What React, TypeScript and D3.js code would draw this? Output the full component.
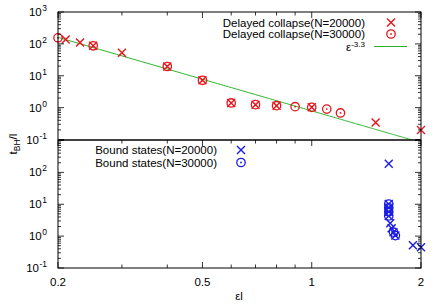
import React from 'react';
import * as d3 from 'd3';

// delayed collapse, N=20000 (crosses)
const collapse20x = [0.21, 0.23, 0.25, 0.3, 0.4, 0.5, 0.6, 0.7, 0.8, 1.0, 1.5, 2.0];
const collapse20y = [138, 111, 87, 53, 19.5, 7.2, 1.4, 1.24, 1.15, 1.02, 0.34, 0.2];
// delayed collapse, N=30000 (circles)
const collapse30x = [0.2, 0.25, 0.4, 0.5, 0.6, 0.7, 0.8, 0.9, 1.0, 1.1, 1.2];
const collapse30y = [155, 87, 19.5, 7.2, 1.4, 1.24, 1.15, 1.07, 1.02, 0.9, 0.68];
// bound states
const bound20x = [1.63, 1.63, 1.63, 1.63, 1.63, 1.645, 1.66, 1.68, 1.7, 1.9, 2.0];
const bound20y = [186, 10.2, 7.7, 5.8, 4.3, 2.55, 1.77, 1.33, 1.04, 0.52, 0.45];
const bound30x = [1.63, 1.63, 1.63, 1.63, 1.68, 1.7];
const bound30y = [10.2, 7.7, 5.8, 4.3, 1.33, 1.04];

const fitCoef = 0.79;
const fitExp = -3.3;

const xTickVals = [0.2, 0.5, 1, 2];
const xTickLabels = ['0.2', '0.5', '1', '2'];
const xMinor = [0.3, 0.4, 0.6, 0.7, 0.8, 0.9];
const yDecades = [-1, 0, 1, 2, 3];
const yLabelsTop = [-1, 0, 1, 2, 3];
const yLabelsBot = [-1, 0, 1, 2];

const RED = '#e8141c';
const BLUE = '#1a1ae6';
const GREEN = '#2ab32a';
const FONT = 'Liberation Sans, Arial, sans-serif';

const left = 58, right = 421;
const topY0 = 12, topY1 = 139.5;
const botY0 = 140.5, botY1 = 268;

const x = d3.scaleLog().domain([0.2, 2]).range([left, right]);
const yTop = d3.scaleLog().domain([0.1, 1000]).range([topY1, topY0]);
const yBot = d3.scaleLog().domain([0.1, 1000]).range([botY1, botY0]);

const Cross = ({ cx, cy, color }: any) => (
  <path d={`M${cx - 4},${cy - 4}L${cx + 4},${cy + 4}M${cx - 4},${cy + 4}L${cx + 4},${cy - 4}`}
    stroke={color} strokeWidth={1.4} fill="none" />
);
const Circ = ({ cx, cy, color }: any) => (
  <g>
    <circle cx={cx} cy={cy} r={4.2} stroke={color} strokeWidth={1.3} fill="none" />
    <circle cx={cx} cy={cy} r={0.9} fill={color} />
  </g>
);

const YAxis = ({ y, labels }: any) => {
  const ticks: any[] = [];
  yDecades.forEach((d) => {
    const v = Math.pow(10, d);
    ticks.push({ v, len: 6 });
    if (d < 3) for (let m = 2; m < 10; m++) ticks.push({ v: v * m, len: 3 });
  });
  return (
    <g>
      {ticks.map((t, i) => (
        <g key={i}>
          <line x1={left} x2={left + t.len} y1={y(t.v)} y2={y(t.v)} stroke="#000" strokeWidth={0.8} />
          <line x1={right} x2={right - t.len} y1={y(t.v)} y2={y(t.v)} stroke="#000" strokeWidth={0.8} />
        </g>
      ))}
      {labels.map((d: number) => (
        <text key={d} x={47} y={y(Math.pow(10, d)) + 4} textAnchor="end" fontSize={11.5} fontFamily={FONT}>
          10
          <tspan dx={0.5} dy={-5} fontSize={8.5} textAnchor="start">{d}</tspan>
        </text>
      ))}
    </g>
  );
};

const XTicks = ({ y0, dir }: any) => (
  <g>
    {xTickVals.map((v, i) => (
      <line key={'M' + i} x1={x(v)} x2={x(v)} y1={y0} y2={y0 + dir * 6} stroke="#000" strokeWidth={0.8} />
    ))}
    {xMinor.map((v, i) => (
      <line key={'m' + i} x1={x(v)} x2={x(v)} y1={y0} y2={y0 + dir * 3.5} stroke="#000" strokeWidth={0.8} />
    ))}
  </g>
);

export default function App() {
  const fitLine = d3.line<number>()
    .x((v) => x(v))
    .y((v) => yTop(fitCoef * Math.pow(v, fitExp)));
  const fitXs = d3.range(0.2, 2.0001, 0.01);

  return (
    <svg width={436} height={305} style={{ position: 'absolute', left: 0, top: 0, background: '#fff' }}>
      <defs>
        <clipPath id="clipTop">
          <rect x={left} y={topY0} width={right - left} height={topY1 - topY0} />
        </clipPath>
      </defs>

      {/* fit line */}
      <path d={fitLine(fitXs) || ''} stroke={GREEN} strokeWidth={1} fill="none" clipPath="url(#clipTop)" />

      {/* top panel markers */}
      {collapse20x.map((v, i) => <Cross key={'a' + i} cx={x(v)} cy={yTop(collapse20y[i])} color={RED} />)}
      {collapse30x.map((v, i) => <Circ key={'b' + i} cx={x(v)} cy={yTop(collapse30y[i])} color={RED} />)}

      {/* bottom panel markers */}
      {bound20x.map((v, i) => <Cross key={'c' + i} cx={x(v)} cy={yBot(bound20y[i])} color={BLUE} />)}
      {bound30x.map((v, i) => <Circ key={'d' + i} cx={x(v)} cy={yBot(bound30y[i])} color={BLUE} />)}

      {/* frames */}
      <rect x={left} y={topY0} width={right - left} height={botY1 - topY0} fill="none" stroke="#000" strokeWidth={1} />
      <line x1={left} x2={right} y1={140} y2={140} stroke="#000" strokeWidth={1.6} />

      <YAxis y={yTop} labels={yLabelsTop} />
      <YAxis y={yBot} labels={yLabelsBot} />
      <XTicks y0={topY0} dir={1} />
      <XTicks y0={140} dir={1} />
      <XTicks y0={botY1} dir={-1} />

      {xTickVals.map((v, i) => (
        <text key={i} x={x(v)} y={286} textAnchor="middle" fontSize={11.5} fontFamily={FONT}>{xTickLabels[i]}</text>
      ))}

      {/* axis labels */}
      <text x={239} y={300} textAnchor="middle" fontSize={11.5} fontFamily={FONT}>εl</text>
      <text transform="translate(17,144) rotate(-90)" textAnchor="middle" fontSize={11.5} fontFamily={FONT}>
        t<tspan dy={3} fontSize={8.5}>BH</tspan><tspan dy={-3}>/l</tspan>
      </text>

      {/* top legend */}
      <text x={365} y={26.5} textAnchor="end" fontSize={11.5} fontFamily={FONT}>Delayed collapse(N=20000)</text>
      <Cross cx={391} cy={22.5} color={RED} />
      <text x={365} y={38} textAnchor="end" fontSize={11.5} fontFamily={FONT}>Delayed collapse(N=30000)</text>
      <Circ cx={391} cy={34} color={RED} />
      <text x={365} y={51} textAnchor="end" fontSize={11.5} fontFamily={FONT}>
        ε<tspan dy={-4.5} fontSize={8}>-3.3</tspan>
      </text>
      <line x1={374} x2={407} y1={46.5} y2={46.5} stroke={GREEN} strokeWidth={1} />

      {/* bottom legend */}
      <text x={217} y={154} textAnchor="end" fontSize={11.5} fontFamily={FONT}>Bound states(N=20000)</text>
      <Cross cx={241} cy={150} color={BLUE} />
      <text x={217} y={166.5} textAnchor="end" fontSize={11.5} fontFamily={FONT}>Bound states(N=30000)</text>
      <Circ cx={241} cy={162.5} color={BLUE} />
    </svg>
  );
}
